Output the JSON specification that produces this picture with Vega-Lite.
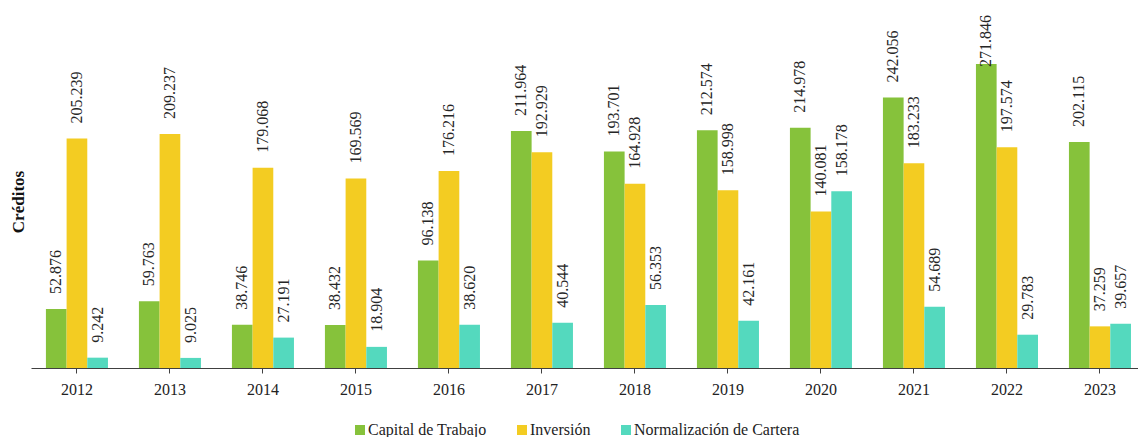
{
  "$schema": "https://vega.github.io/schema/vega-lite/v6.json",
  "width": 1107,
  "height": 313,
  "autosize": {"type": "none"},
  "padding": {"left": 31, "top": 55, "right": 0, "bottom": 69},
  "background": "white",
  "config": {
    "view": {"stroke": null},
    "font": "Liberation Serif",
    "locale": {"number": {"decimal": ",", "thousands": ".", "grouping": [3], "currency": ["$", ""]}}
  },
  "data": {
    "values": [
      {"year": "2012", "serie": "Capital de Trabajo", "value": 52876},
      {"year": "2012", "serie": "Inversión", "value": 205239},
      {"year": "2012", "serie": "Normalización de Cartera", "value": 9242},
      {"year": "2013", "serie": "Capital de Trabajo", "value": 59763},
      {"year": "2013", "serie": "Inversión", "value": 209237},
      {"year": "2013", "serie": "Normalización de Cartera", "value": 9025},
      {"year": "2014", "serie": "Capital de Trabajo", "value": 38746},
      {"year": "2014", "serie": "Inversión", "value": 179068},
      {"year": "2014", "serie": "Normalización de Cartera", "value": 27191},
      {"year": "2015", "serie": "Capital de Trabajo", "value": 38432},
      {"year": "2015", "serie": "Inversión", "value": 169569},
      {"year": "2015", "serie": "Normalización de Cartera", "value": 18904},
      {"year": "2016", "serie": "Capital de Trabajo", "value": 96138},
      {"year": "2016", "serie": "Inversión", "value": 176216},
      {"year": "2016", "serie": "Normalización de Cartera", "value": 38620},
      {"year": "2017", "serie": "Capital de Trabajo", "value": 211964},
      {"year": "2017", "serie": "Inversión", "value": 192929},
      {"year": "2017", "serie": "Normalización de Cartera", "value": 40544},
      {"year": "2018", "serie": "Capital de Trabajo", "value": 193701},
      {"year": "2018", "serie": "Inversión", "value": 164928},
      {"year": "2018", "serie": "Normalización de Cartera", "value": 56353},
      {"year": "2019", "serie": "Capital de Trabajo", "value": 212574},
      {"year": "2019", "serie": "Inversión", "value": 158998},
      {"year": "2019", "serie": "Normalización de Cartera", "value": 42161},
      {"year": "2020", "serie": "Capital de Trabajo", "value": 214978},
      {"year": "2020", "serie": "Inversión", "value": 140081},
      {"year": "2020", "serie": "Normalización de Cartera", "value": 158178},
      {"year": "2021", "serie": "Capital de Trabajo", "value": 242056},
      {"year": "2021", "serie": "Inversión", "value": 183233},
      {"year": "2021", "serie": "Normalización de Cartera", "value": 54689},
      {"year": "2022", "serie": "Capital de Trabajo", "value": 271846},
      {"year": "2022", "serie": "Inversión", "value": 197574},
      {"year": "2022", "serie": "Normalización de Cartera", "value": 29783},
      {"year": "2023", "serie": "Capital de Trabajo", "value": 202115},
      {"year": "2023", "serie": "Inversión", "value": 37259},
      {"year": "2023", "serie": "Normalización de Cartera", "value": 39657}
    ]
  },
  "encoding": {
    "x": {
      "field": "year", "type": "nominal",
      "scale": {"paddingInner": 0.333, "paddingOuter": 0.118, "align": 0.68},
      "axis": {
        "title": null, "labelAngle": 0, "labelFontSize": 16, "labelColor": "#222222",
        "labelPadding": 8, "tickSize": 5, "tickColor": "#404040", "domainColor": "#404040",
        "labelFont": "Liberation Serif"
      }
    },
    "xOffset": {
      "field": "serie", "type": "nominal",
      "scale": {"domain": ["Capital de Trabajo", "Inversión", "Normalización de Cartera"], "paddingInner": 0, "paddingOuter": 0}
    },
    "y": {
      "field": "value", "type": "quantitative",
      "scale": {"domain": [0, 280000], "nice": false},
      "axis": {
        "title": "Créditos", "labels": false, "ticks": false, "domain": false, "grid": false,
        "titleFontWeight": "bold", "titleFontSize": 17, "titleColor": "#111111",
        "titleX": -12.5, "titleY": 146.5, "titleAlign": "center", "titleBaseline": "middle",
        "titleFont": "Liberation Serif"
      }
    }
  },
  "layer": [
    {
      "mark": {"type": "bar"},
      "encoding": {
        "color": {
          "field": "serie", "type": "nominal",
          "scale": {"domain": ["Capital de Trabajo", "Inversión", "Normalización de Cartera"], "range": ["#86c23b", "#f3cc22", "#54d9be"]},
          "legend": {
            "title": null, "orient": "none", "direction": "horizontal",
            "legendX": 321, "legendY": 367, "padding": 0,
            "symbolType": "square", "symbolSize": 100, "symbolStrokeWidth": 0, "symbolOpacity": 1,
            "labelFontSize": 16, "labelFont": "Liberation Serif", "labelColor": "#222222",
            "labelOffset": 0, "labelLimit": 0, "columnPadding": 27
          }
        }
      }
    },
    {
      "transform": [{"calculate": "min(datum.value, 255800)", "as": "labelPos"}],
      "mark": {"type": "text", "angle": -90, "align": "left", "baseline": "middle", "dx": 15, "fontSize": 16, "color": "#262626", "font": "Liberation Serif"},
      "encoding": {
        "y": {"field": "labelPos", "type": "quantitative"},
        "text": {"field": "value", "type": "quantitative", "format": ",d"}
      }
    }
  ]
}
